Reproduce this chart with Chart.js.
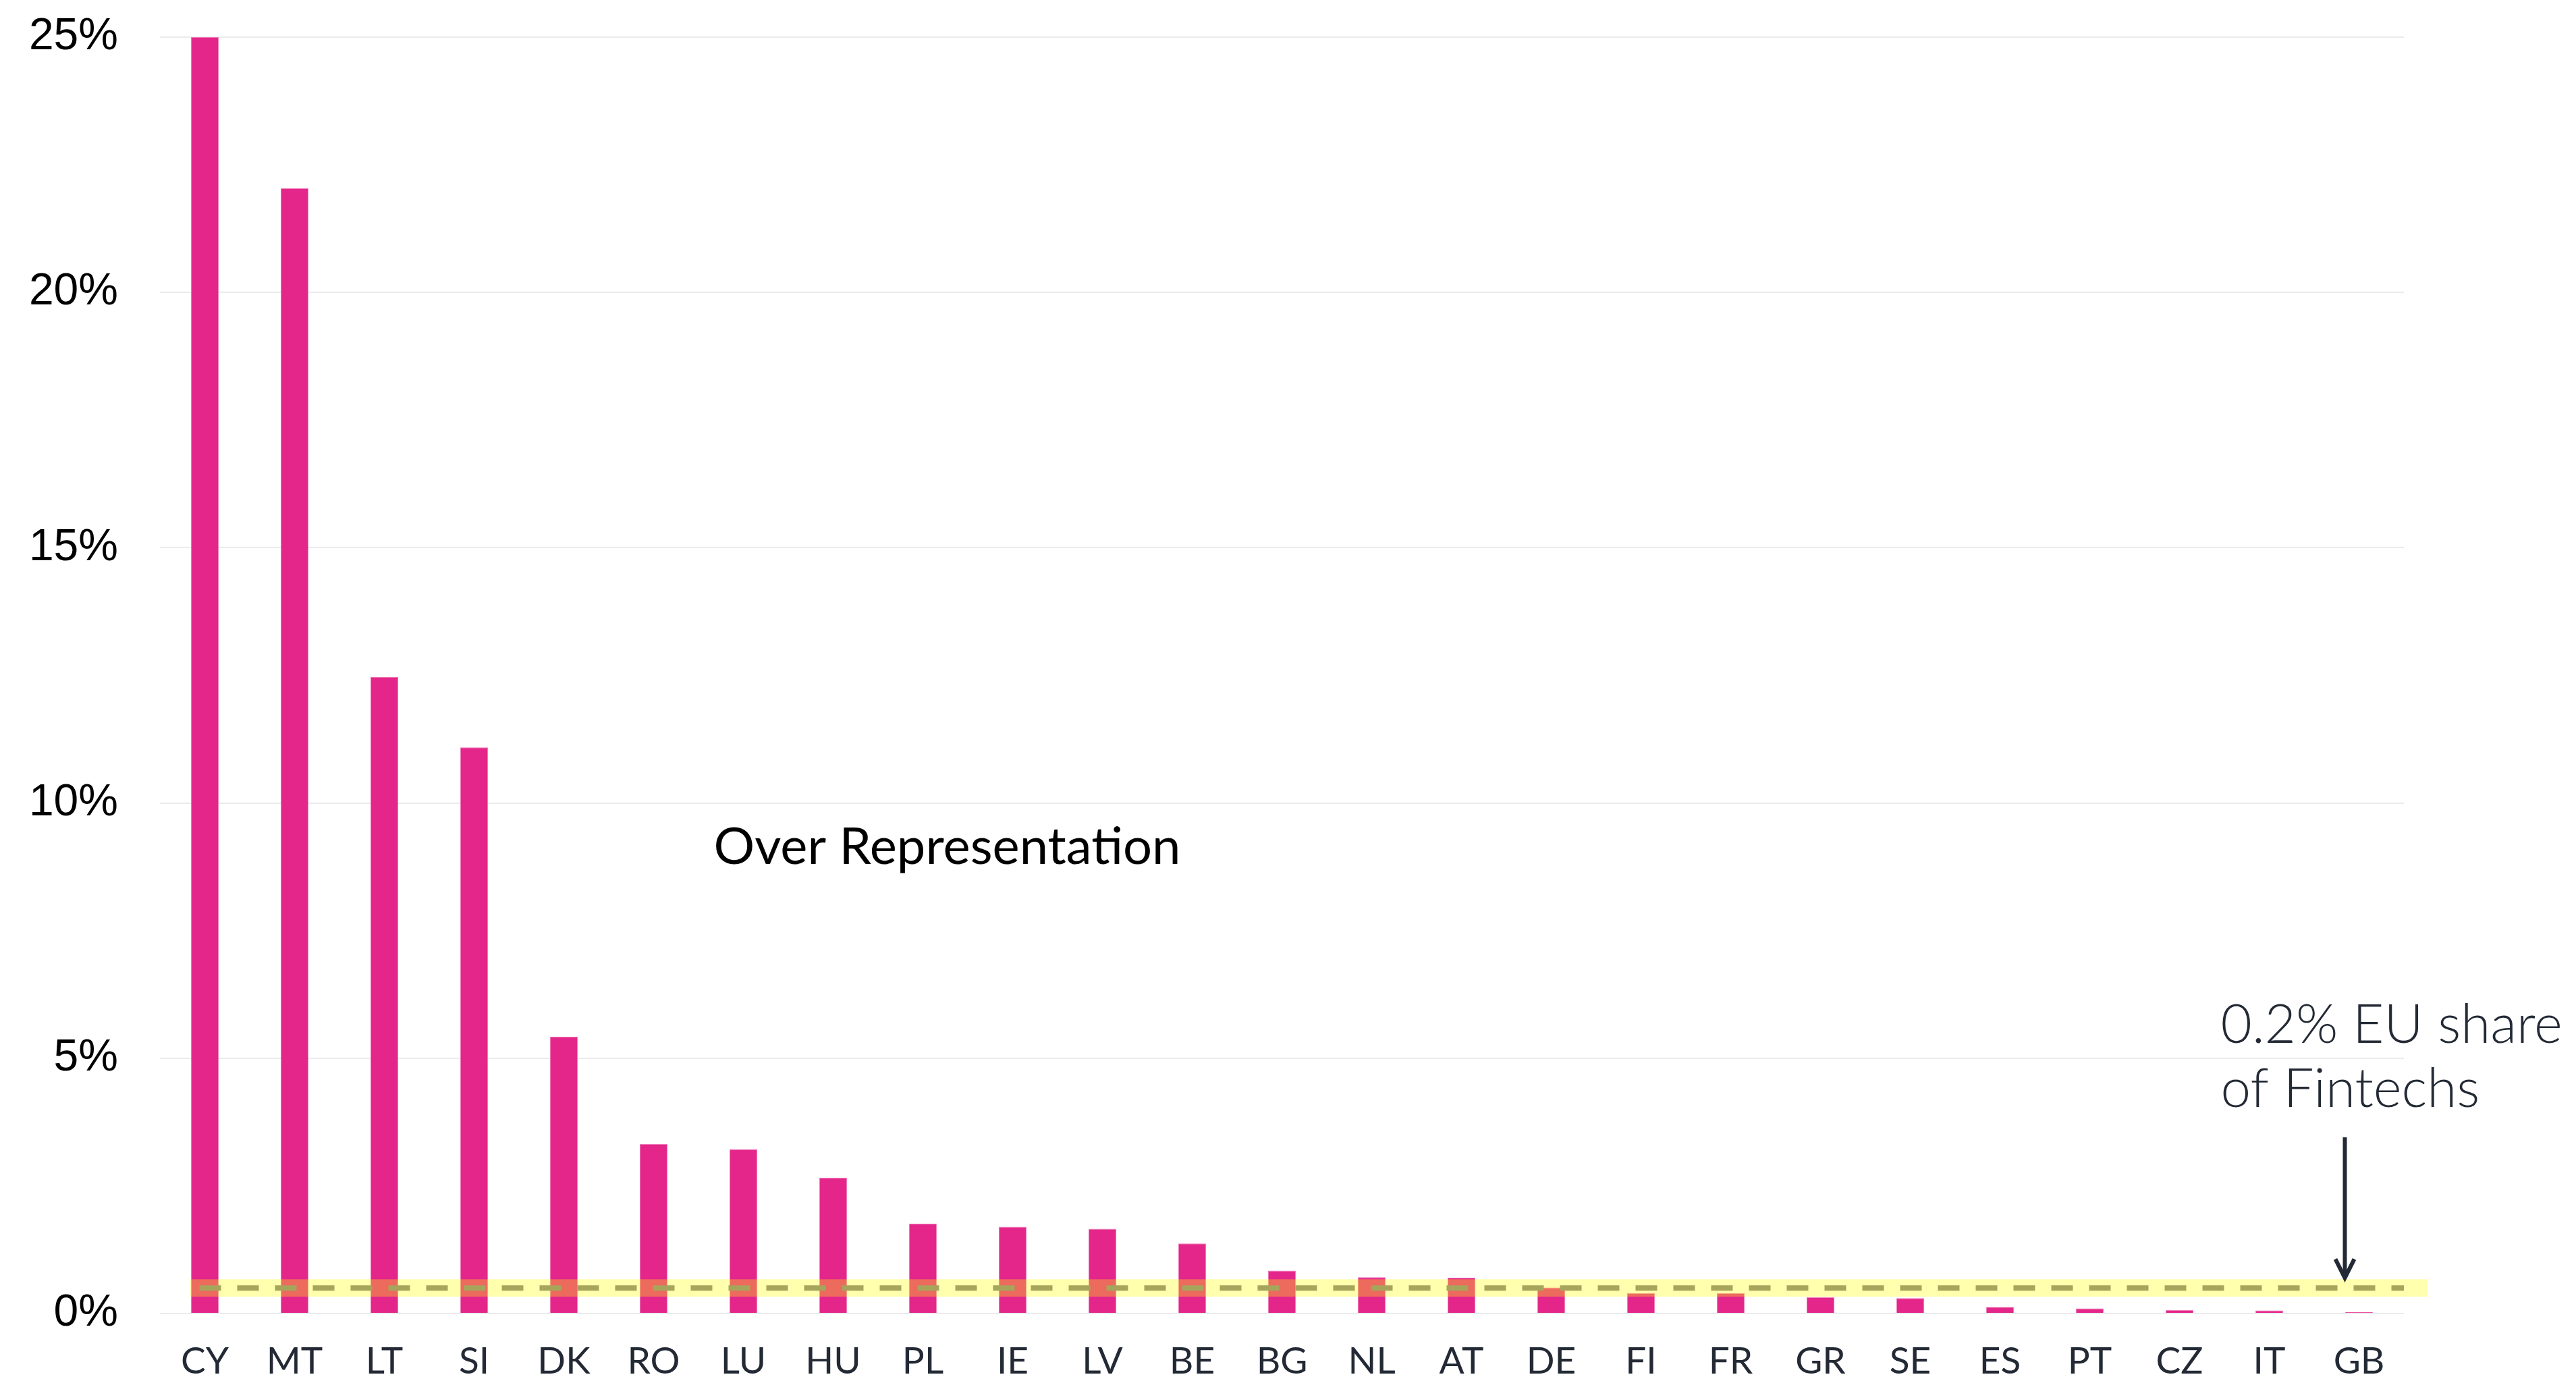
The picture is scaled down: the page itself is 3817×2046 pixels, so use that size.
<!DOCTYPE html>
<html>
<head>
<meta charset="utf-8">
<script src="https://cdn.jsdelivr.net/npm/chart.js@4.4.1/dist/chart.umd.min.js"></script>
<style>
  html, body { margin: 0; padding: 0; background: #ffffff; }
  canvas { display: block; }
</style>
</head>
<body>
<canvas id="shareChart" width="3817" height="2046"></canvas>
<script>
// DATA
const countries = ['CY', 'MT', 'LT', 'SI', 'DK', 'RO', 'LU', 'HU', 'PL', 'IE', 'LV', 'BE', 'BG',
                   'NL', 'AT', 'DE', 'FI', 'FR', 'GR', 'SE', 'ES', 'PT', 'CZ', 'IT', 'GB'];
const shareValues = [25.0, 22.04, 12.47, 11.09, 5.42, 3.32, 3.22, 2.66, 1.76, 1.70, 1.66, 1.37, 0.84,
                     0.71, 0.70, 0.51, 0.40, 0.40, 0.32, 0.30, 0.13, 0.10, 0.07, 0.06, 0.03];
const yTicks = [0, 5, 10, 15, 20, 25];
const euShareLevel = 0.5;       // dashed reference line
const euShareBand = [0.33, 0.67]; // yellow highlight
const overLabel = 'Over Representation';
const noteLines = ['0.2% EU share', 'of Fintechs'];

const dark = '#232a35';

// annotations: band, dashed line, arrow, texts
const overlayPlugin = {
    id: 'overlay',
    afterDatasetsDraw(chart) {
        const ctx = chart.ctx;
        const x = chart.scales.x;
        const y = chart.scales.y;
        const area = chart.chartArea;

        ctx.save();
        // yellow band
        const bandLeft = x.getPixelForValue(0) - 22;
        const bandRight = area.right + 34;
        const bandTop = y.getPixelForValue(euShareBand[1]);
        const bandBottom = y.getPixelForValue(euShareBand[0]);
        ctx.fillStyle = 'rgba(255, 255, 0, 0.32)';
        ctx.fillRect(bandLeft, bandTop, bandRight - bandLeft, bandBottom - bandTop);

        // dashed line
        const lineY = y.getPixelForValue(euShareLevel);
        ctx.strokeStyle = '#a6a55b';
        ctx.lineWidth = 8;
        ctx.setLineDash([32, 24]);
        ctx.beginPath();
        ctx.moveTo(x.getPixelForValue(0) - 8, lineY);
        ctx.lineTo(area.right, lineY);
        ctx.stroke();
        ctx.setLineDash([]);

        // arrow pointing to the band
        const arrowX = x.getPixelForValue(countries.length - 1) - 21;
        const arrowTop = y.getPixelForValue(3.45);
        const arrowTip = bandTop - 2;
        ctx.strokeStyle = dark;
        ctx.lineWidth = 6;
        ctx.beginPath();
        ctx.moveTo(arrowX, arrowTop);
        ctx.lineTo(arrowX, arrowTip);
        ctx.stroke();
        ctx.beginPath();
        ctx.moveTo(arrowX - 14, arrowTip - 28);
        ctx.lineTo(arrowX, arrowTip);
        ctx.lineTo(arrowX + 14, arrowTip - 28);
        ctx.stroke();

        // note text
        ctx.fillStyle = dark;
        ctx.font = '300 80px Lato';
        ctx.textAlign = 'left';
        ctx.textBaseline = 'alphabetic';
        ctx.fillText(noteLines[0], arrowX - 184, y.getPixelForValue(5.3));
        ctx.fillText(noteLines[1], arrowX - 184, y.getPixelForValue(4.05));

        // over representation label
        ctx.fillStyle = '#000000';
        ctx.font = '400 76px Lato';
        ctx.fillText(overLabel, x.getPixelForValue(6) - 44, y.getPixelForValue(8.8));
        ctx.restore();
    }
};

const ctx = document.getElementById('shareChart').getContext('2d');
const shareChart = new Chart(ctx, {
    type: 'bar',
    data: {
        labels: countries,
        datasets: [{
            data: shareValues,
            backgroundColor: '#e4268a',
            borderColor: '#f07ab8',
            borderWidth: 1,
            barPercentage: 0.31,
            categoryPercentage: 1.0
        }]
    },
    options: {
        responsive: false,
        animation: false,
        devicePixelRatio: 1,
        layout: {
            padding: { top: 55, right: 255, bottom: 0, left: 0 }
        },
        plugins: {
            legend: { display: false },
            tooltip: { enabled: false }
        },
        scales: {
            x: {
                grid: { display: false, drawTicks: false },
                border: { display: false },
                ticks: {
                    color: dark,
                    font: { family: 'Lato', size: 55 },
                    padding: 38,
                    maxRotation: 0,
                    autoSkip: false
                },
                afterFit(scale) { scale.height = 100; }
            },
            y: {
                min: 0,
                max: 25,
                afterBuildTicks(scale) {
                    scale.ticks = yTicks.map(v => ({ value: v }));
                },
                grid: { color: '#ebebeb', lineWidth: 2, drawTicks: false },
                border: { display: false },
                ticks: {
                    color: '#000000',
                    font: { family: 'Liberation Sans', size: 66 },
                    padding: 62,
                    callback: v => v + '%'
                },
                afterFit(scale) {
                    scale.width = 237;
                    // tick padding should not push the plot area down
                    scale.paddingTop = 0;
                    scale.paddingBottom = 0;
                }
            }
        }
    },
    plugins: [overlayPlugin]
});
</script>
</body>
</html>
